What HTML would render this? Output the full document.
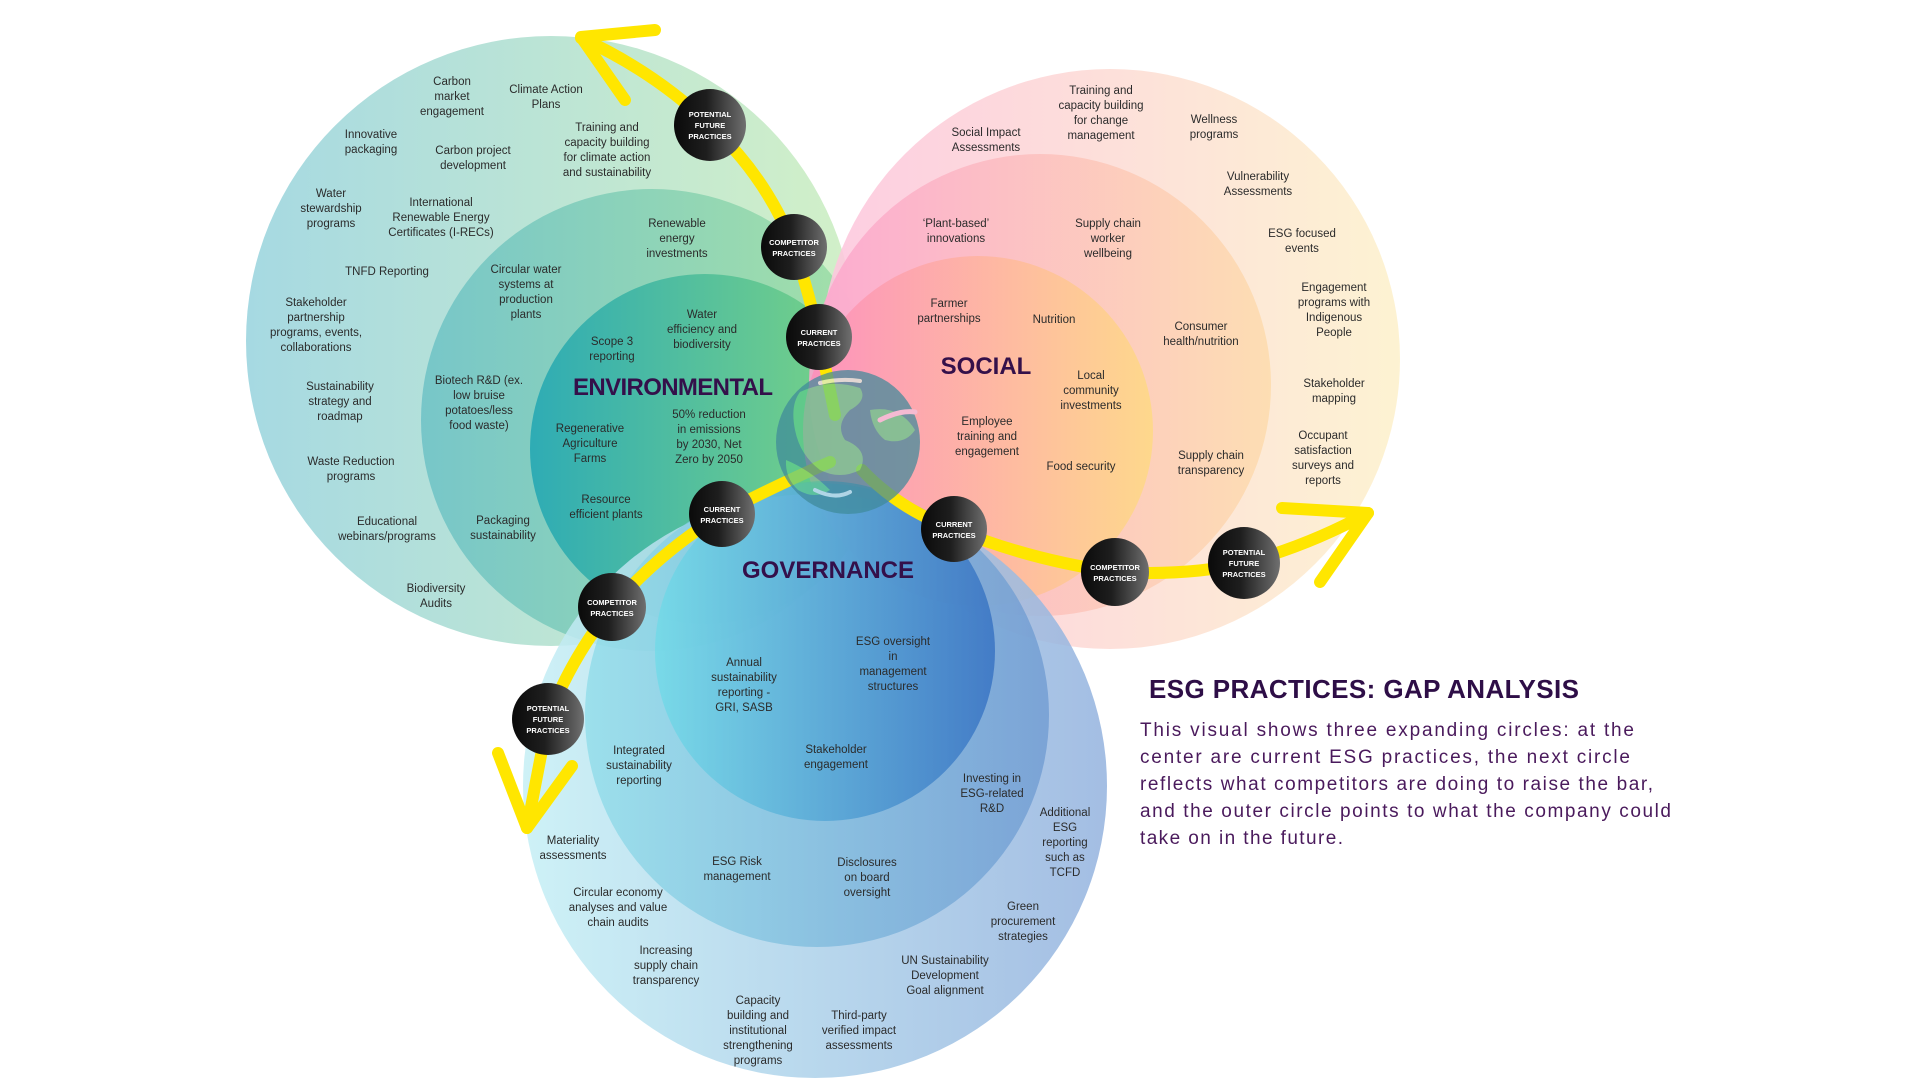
<!DOCTYPE html>
<html><head><meta charset="utf-8"><style>
html,body{margin:0;padding:0;background:#fff;}
svg{display:block;}
.l{font-family:"Liberation Sans",sans-serif;font-size:11.5px;fill:#2b2b2b;text-anchor:middle;}
.b{font-family:"Liberation Sans",sans-serif;font-size:7.5px;font-weight:bold;fill:#fff;text-anchor:middle;}
.t{font-family:"Liberation Sans",sans-serif;font-weight:bold;fill:#34104a;text-anchor:middle;}
</style></head><body>
<svg width="1920" height="1080" viewBox="0 0 1920 1080" xmlns="http://www.w3.org/2000/svg">
<defs>
<linearGradient id="eo" x1="0" x2="1"><stop offset="0" stop-color="#a6d9e2"/><stop offset="1" stop-color="#d2f0c8"/></linearGradient>
<linearGradient id="em" x1="0" x2="1"><stop offset="0" stop-color="#74c5c8"/><stop offset="1" stop-color="#a3e0a5"/></linearGradient>
<linearGradient id="ei" x1="0" x2="1"><stop offset="0" stop-color="#2aaab4"/><stop offset="1" stop-color="#7dd580"/></linearGradient>
<linearGradient id="so" x1="0" x2="1"><stop offset="0" stop-color="#fdc6de"/><stop offset="1" stop-color="#fdf1cc"/></linearGradient>
<linearGradient id="sm" x1="0" x2="1"><stop offset="0" stop-color="#fca6cf"/><stop offset="1" stop-color="#fddcae"/></linearGradient>
<linearGradient id="si" x1="0" x2="1"><stop offset="0" stop-color="#fd8ebc"/><stop offset="1" stop-color="#fed987"/></linearGradient>
<linearGradient id="go" x1="0" x2="1"><stop offset="0" stop-color="#c5eff5"/><stop offset="1" stop-color="#93b2de"/></linearGradient>
<linearGradient id="gm" x1="0" x2="1"><stop offset="0" stop-color="#8adbe8"/><stop offset="1" stop-color="#6a97d0"/></linearGradient>
<linearGradient id="gi" x1="0" x2="1"><stop offset="0" stop-color="#6cdbe8"/><stop offset="1" stop-color="#2a68bf"/></linearGradient>
<linearGradient id="bd" x1="0" x2="1"><stop offset="0" stop-color="#0a0a0a"/><stop offset="0.45" stop-color="#1e1e1e"/><stop offset="1" stop-color="#707070"/></linearGradient>
</defs>

<circle cx="551" cy="341" r="305" fill="url(#eo)"/>
<circle cx="652" cy="420" r="231" fill="url(#em)" opacity="0.95"/>
<circle cx="705" cy="449" r="175" fill="url(#ei)" opacity="0.95"/>
<circle cx="1110" cy="359" r="290" fill="url(#so)" opacity="0.88"/>
<circle cx="1040" cy="385" r="231" fill="url(#sm)" opacity="0.88"/>
<circle cx="978" cy="431" r="175" fill="url(#si)" opacity="0.9"/>
<circle cx="815" cy="786" r="292" fill="url(#go)" opacity="0.85"/>
<circle cx="817" cy="715" r="232" fill="url(#gm)" opacity="0.72"/>
<circle cx="825" cy="651" r="170" fill="url(#gi)" opacity="0.7"/>

<g fill="none" stroke="#ffe600" stroke-width="12" stroke-linecap="round" stroke-linejoin="round">
<path d="M835,415 L819,337 Q808,290 794,247 Q765,175 710,125 Q655,72 581,38"/>
<path d="M655,30 L581,37 L625,100"/>
<path d="M862,470 Q900,510 954,529 Q1030,560 1115,572 Q1190,576 1244,563 Q1310,545 1368,513"/>
<path d="M1282,508 L1368,513 L1320,582"/>
<path d="M830,462 Q770,488 722,514 Q660,552 612,607 Q570,660 548,719 L527,828"/>
<path d="M498,753 L527,828 L572,766"/>
</g>

<g opacity="0.72">
<circle cx="848" cy="442" r="72" fill="#3f8a9a"/>
<path d="M800,392 Q830,378 860,388 Q868,400 850,410 Q835,425 845,440 Q870,450 860,470 Q840,480 820,470 Q800,455 795,430 Q790,405 800,392Z" fill="#5cc98a"/>
<path d="M870,410 Q900,405 915,430 Q905,445 885,440 Q872,430 870,410Z" fill="#5cc98a"/>
<path d="M786,460 Q810,470 830,490 Q815,500 798,490 Q785,478 786,460Z" fill="#5cc98a"/>
<path d="M880,420 Q900,410 915,412" stroke="#f3c3df" stroke-width="5" fill="none" stroke-linecap="round"/>
<path d="M815,490 Q835,500 850,492" stroke="#cfe9ee" stroke-width="4" fill="none" stroke-linecap="round"/>
<path d="M820,383 Q840,378 860,381" stroke="#d8eede" stroke-width="4" fill="none" stroke-linecap="round"/>
</g>

<g>
<circle cx="710" cy="125" r="36" fill="url(#bd)"/>
<text class="b" x="710" y="117">POTENTIAL</text><text class="b" x="710" y="128">FUTURE</text><text class="b" x="710" y="139">PRACTICES</text>
<circle cx="794" cy="247" r="33" fill="url(#bd)"/>
<text class="b" x="794" y="245">COMPETITOR</text><text class="b" x="794" y="256">PRACTICES</text>
<circle cx="819" cy="337" r="33" fill="url(#bd)"/>
<text class="b" x="819" y="335">CURRENT</text><text class="b" x="819" y="346">PRACTICES</text>
<circle cx="954" cy="529" r="33" fill="url(#bd)"/>
<text class="b" x="954" y="527">CURRENT</text><text class="b" x="954" y="538">PRACTICES</text>
<circle cx="1115" cy="572" r="34" fill="url(#bd)"/>
<text class="b" x="1115" y="570">COMPETITOR</text><text class="b" x="1115" y="581">PRACTICES</text>
<circle cx="1244" cy="563" r="36" fill="url(#bd)"/>
<text class="b" x="1244" y="555">POTENTIAL</text><text class="b" x="1244" y="566">FUTURE</text><text class="b" x="1244" y="577">PRACTICES</text>
<circle cx="722" cy="514" r="33" fill="url(#bd)"/>
<text class="b" x="722" y="512">CURRENT</text><text class="b" x="722" y="523">PRACTICES</text>
<circle cx="612" cy="607" r="34" fill="url(#bd)"/>
<text class="b" x="612" y="605">COMPETITOR</text><text class="b" x="612" y="616">PRACTICES</text>
<circle cx="548" cy="719" r="36" fill="url(#bd)"/>
<text class="b" x="548" y="711">POTENTIAL</text><text class="b" x="548" y="722">FUTURE</text><text class="b" x="548" y="733">PRACTICES</text>
</g>

<text class="t" x="673" y="395" font-size="24" textLength="200">ENVIRONMENTAL</text>
<text class="t" x="986" y="374" font-size="24">SOCIAL</text>
<text class="t" x="828" y="578" font-size="24">GOVERNANCE</text>

<g class="l">
<text x="452" y="85"><tspan x="452">Carbon</tspan><tspan x="452" dy="15">market</tspan><tspan x="452" dy="15">engagement</tspan></text>
<text x="546" y="93"><tspan x="546">Climate Action</tspan><tspan x="546" dy="15">Plans</tspan></text>
<text x="607" y="131"><tspan x="607">Training and</tspan><tspan x="607" dy="15">capacity building</tspan><tspan x="607" dy="15">for climate action</tspan><tspan x="607" dy="15">and sustainability</tspan></text>
<text x="371" y="138"><tspan x="371">Innovative</tspan><tspan x="371" dy="15">packaging</tspan></text>
<text x="473" y="154"><tspan x="473">Carbon project</tspan><tspan x="473" dy="15">development</tspan></text>
<text x="331" y="197"><tspan x="331">Water</tspan><tspan x="331" dy="15">stewardship</tspan><tspan x="331" dy="15">programs</tspan></text>
<text x="441" y="206"><tspan x="441">International</tspan><tspan x="441" dy="15">Renewable Energy</tspan><tspan x="441" dy="15">Certificates (I-RECs)</tspan></text>
<text x="387" y="275">TNFD Reporting</text>
<text x="316" y="306"><tspan x="316">Stakeholder</tspan><tspan x="316" dy="15">partnership</tspan><tspan x="316" dy="15">programs, events,</tspan><tspan x="316" dy="15">collaborations</tspan></text>
<text x="340" y="390"><tspan x="340">Sustainability</tspan><tspan x="340" dy="15">strategy and</tspan><tspan x="340" dy="15">roadmap</tspan></text>
<text x="351" y="465"><tspan x="351">Waste Reduction</tspan><tspan x="351" dy="15">programs</tspan></text>
<text x="387" y="525"><tspan x="387">Educational</tspan><tspan x="387" dy="15">webinars/programs</tspan></text>
<text x="436" y="592"><tspan x="436">Biodiversity</tspan><tspan x="436" dy="15">Audits</tspan></text>
<text x="677" y="227"><tspan x="677">Renewable</tspan><tspan x="677" dy="15">energy</tspan><tspan x="677" dy="15">investments</tspan></text>
<text x="526" y="273"><tspan x="526">Circular water</tspan><tspan x="526" dy="15">systems at</tspan><tspan x="526" dy="15">production</tspan><tspan x="526" dy="15">plants</tspan></text>
<text x="479" y="384"><tspan x="479">Biotech R&amp;D (ex.</tspan><tspan x="479" dy="15">low bruise</tspan><tspan x="479" dy="15">potatoes/less</tspan><tspan x="479" dy="15">food waste)</tspan></text>
<text x="503" y="524"><tspan x="503">Packaging</tspan><tspan x="503" dy="15">sustainability</tspan></text>
<text x="702" y="318"><tspan x="702">Water</tspan><tspan x="702" dy="15">efficiency and</tspan><tspan x="702" dy="15">biodiversity</tspan></text>
<text x="612" y="345"><tspan x="612">Scope 3</tspan><tspan x="612" dy="15">reporting</tspan></text>
<text x="590" y="432"><tspan x="590">Regenerative</tspan><tspan x="590" dy="15">Agriculture</tspan><tspan x="590" dy="15">Farms</tspan></text>
<text x="709" y="418"><tspan x="709">50% reduction</tspan><tspan x="709" dy="15">in emissions</tspan><tspan x="709" dy="15">by 2030, Net</tspan><tspan x="709" dy="15">Zero by 2050</tspan></text>
<text x="606" y="503"><tspan x="606">Resource</tspan><tspan x="606" dy="15">efficient plants</tspan></text>

<text x="986" y="136"><tspan x="986">Social Impact</tspan><tspan x="986" dy="15">Assessments</tspan></text>
<text x="1101" y="94"><tspan x="1101">Training and</tspan><tspan x="1101" dy="15">capacity building</tspan><tspan x="1101" dy="15">for change</tspan><tspan x="1101" dy="15">management</tspan></text>
<text x="1214" y="123"><tspan x="1214">Wellness</tspan><tspan x="1214" dy="15">programs</tspan></text>
<text x="1258" y="180"><tspan x="1258">Vulnerability</tspan><tspan x="1258" dy="15">Assessments</tspan></text>
<text x="1302" y="237"><tspan x="1302">ESG focused</tspan><tspan x="1302" dy="15">events</tspan></text>
<text x="1334" y="291"><tspan x="1334">Engagement</tspan><tspan x="1334" dy="15">programs with</tspan><tspan x="1334" dy="15">Indigenous</tspan><tspan x="1334" dy="15">People</tspan></text>
<text x="1334" y="387"><tspan x="1334">Stakeholder</tspan><tspan x="1334" dy="15">mapping</tspan></text>
<text x="1323" y="439"><tspan x="1323">Occupant</tspan><tspan x="1323" dy="15">satisfaction</tspan><tspan x="1323" dy="15">surveys and</tspan><tspan x="1323" dy="15">reports</tspan></text>
<text x="956" y="227"><tspan x="956">‘Plant-based’</tspan><tspan x="956" dy="15">innovations</tspan></text>
<text x="1108" y="227"><tspan x="1108">Supply chain</tspan><tspan x="1108" dy="15">worker</tspan><tspan x="1108" dy="15">wellbeing</tspan></text>
<text x="1201" y="330"><tspan x="1201">Consumer</tspan><tspan x="1201" dy="15">health/nutrition</tspan></text>
<text x="1211" y="459"><tspan x="1211">Supply chain</tspan><tspan x="1211" dy="15">transparency</tspan></text>
<text x="949" y="307"><tspan x="949">Farmer</tspan><tspan x="949" dy="15">partnerships</tspan></text>
<text x="1054" y="323">Nutrition</text>
<text x="1091" y="379"><tspan x="1091">Local</tspan><tspan x="1091" dy="15">community</tspan><tspan x="1091" dy="15">investments</tspan></text>
<text x="987" y="425"><tspan x="987">Employee</tspan><tspan x="987" dy="15">training and</tspan><tspan x="987" dy="15">engagement</tspan></text>
<text x="1081" y="470">Food security</text>

<text x="893" y="645"><tspan x="893">ESG oversight</tspan><tspan x="893" dy="15">in</tspan><tspan x="893" dy="15">management</tspan><tspan x="893" dy="15">structures</tspan></text>
<text x="744" y="666"><tspan x="744">Annual</tspan><tspan x="744" dy="15">sustainability</tspan><tspan x="744" dy="15">reporting -</tspan><tspan x="744" dy="15">GRI, SASB</tspan></text>
<text x="836" y="753"><tspan x="836">Stakeholder</tspan><tspan x="836" dy="15">engagement</tspan></text>
<text x="639" y="754"><tspan x="639">Integrated</tspan><tspan x="639" dy="15">sustainability</tspan><tspan x="639" dy="15">reporting</tspan></text>
<text x="992" y="782"><tspan x="992">Investing in</tspan><tspan x="992" dy="15">ESG-related</tspan><tspan x="992" dy="15">R&amp;D</tspan></text>
<text x="737" y="865"><tspan x="737">ESG Risk</tspan><tspan x="737" dy="15">management</tspan></text>
<text x="867" y="866"><tspan x="867">Disclosures</tspan><tspan x="867" dy="15">on board</tspan><tspan x="867" dy="15">oversight</tspan></text>
<text x="573" y="844"><tspan x="573">Materiality</tspan><tspan x="573" dy="15">assessments</tspan></text>
<text x="1065" y="816"><tspan x="1065">Additional</tspan><tspan x="1065" dy="15">ESG</tspan><tspan x="1065" dy="15">reporting</tspan><tspan x="1065" dy="15">such as</tspan><tspan x="1065" dy="15">TCFD</tspan></text>
<text x="618" y="896"><tspan x="618">Circular economy</tspan><tspan x="618" dy="15">analyses and value</tspan><tspan x="618" dy="15">chain audits</tspan></text>
<text x="1023" y="910"><tspan x="1023">Green</tspan><tspan x="1023" dy="15">procurement</tspan><tspan x="1023" dy="15">strategies</tspan></text>
<text x="666" y="954"><tspan x="666">Increasing</tspan><tspan x="666" dy="15">supply chain</tspan><tspan x="666" dy="15">transparency</tspan></text>
<text x="945" y="964"><tspan x="945">UN Sustainability</tspan><tspan x="945" dy="15">Development</tspan><tspan x="945" dy="15">Goal alignment</tspan></text>
<text x="758" y="1004"><tspan x="758">Capacity</tspan><tspan x="758" dy="15">building and</tspan><tspan x="758" dy="15">institutional</tspan><tspan x="758" dy="15">strengthening</tspan><tspan x="758" dy="15">programs</tspan></text>
<text x="859" y="1019"><tspan x="859">Third-party</tspan><tspan x="859" dy="15">verified impact</tspan><tspan x="859" dy="15">assessments</tspan></text>
</g>

<text x="1149" y="698" font-family="Liberation Sans, sans-serif" font-weight="bold" font-size="26" fill="#2e0e47" textLength="430">ESG PRACTICES: GAP ANALYSIS</text>
<g font-family="Liberation Sans, sans-serif" font-size="19" fill="#4a1a5c">
<text x="1140" y="736" textLength="494">This visual shows three expanding circles: at the</text>
<text x="1140" y="763" textLength="490">center are current ESG practices, the next circle</text>
<text x="1140" y="790" textLength="513">reflects what competitors are doing to raise the bar,</text>
<text x="1140" y="817" textLength="531">and the outer circle points to what the company could</text>
<text x="1140" y="844" textLength="203">take on in the future.</text>
</g>
</svg>
</body></html>
